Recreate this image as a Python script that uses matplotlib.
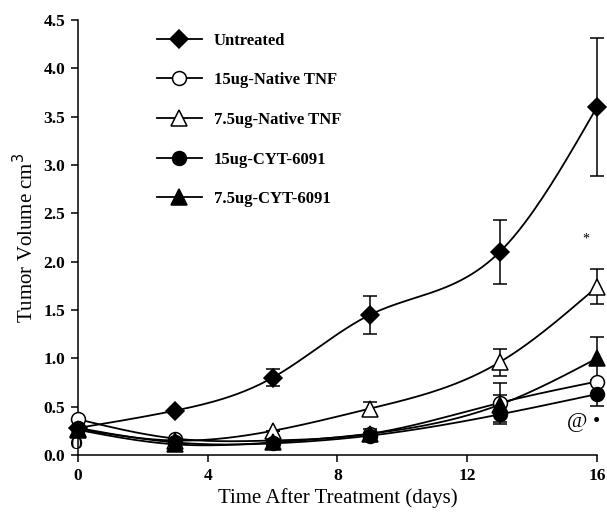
import numpy as np
import matplotlib
matplotlib.use("Agg")
import matplotlib.pyplot as plt

plt.rcParams['font.family'] = ['Liberation Serif', 'DejaVu Serif']

days = [0, 3, 6, 9, 13, 16]
untreated = [0.28, 0.46, 0.80, 1.45, 2.10, 3.60]
untreated_err = [0.0, 0.0, 0.09, 0.20, 0.33, 0.71]
native15 = [0.37, 0.17, 0.15, 0.22, 0.54, 0.76]
native15_err = [0.0, 0.0, 0.0, 0.0, 0.20, 0.0]
native75 = [0.27, 0.15, 0.25, 0.48, 0.96, 1.74]
native75_err = [0.0, 0.0, 0.0, 0.07, 0.14, 0.18]
cyt15 = [0.28, 0.13, 0.12, 0.20, 0.42, 0.63]
cyt15_err = [0.0, 0.0, 0.0, 0.0, 0.10, 0.12]
cyt75 = [0.26, 0.11, 0.13, 0.22, 0.52, 1.00]
cyt75_err = [0.0, 0.0, 0.0, 0.05, 0.10, 0.22]

labels = ["Untreated", "15ug-Native TNF", "7.5ug-Native TNF", "15ug-CYT-6091", "7.5ug-CYT-6091"]
xticks = [0, 4, 8, 12, 16]
yticks = [0.0, 0.5, 1.0, 1.5, 2.0, 2.5, 3.0, 3.5, 4.0, 4.5]


def smooth(x, y, n=200):
    # natural cubic spline through the points (for drawing only)
    x = np.asarray(x, float); y = np.asarray(y, float)
    k = len(x)
    h = np.diff(x)
    A = np.zeros((k, k)); b = np.zeros(k)
    A[0, 0] = 1; A[-1, -1] = 1
    for i in range(1, k - 1):
        A[i, i - 1] = h[i - 1]; A[i, i] = 2 * (h[i - 1] + h[i]); A[i, i + 1] = h[i]
        b[i] = 3 * ((y[i + 1] - y[i]) / h[i] - (y[i] - y[i - 1]) / h[i - 1])
    c = np.linalg.solve(A, b)
    xs = np.linspace(x[0], x[-1], n)
    ys = np.empty_like(xs)
    for j, xv in enumerate(xs):
        i = min(np.searchsorted(x, xv, side='right') - 1, k - 2)
        bi = (y[i + 1] - y[i]) / h[i] - h[i] * (2 * c[i] + c[i + 1]) / 3
        di = (c[i + 1] - c[i]) / (3 * h[i])
        t = xv - x[i]
        ys[j] = y[i] + bi * t + c[i] * t ** 2 + di * t ** 3
    return xs, ys


fig = plt.figure(figsize=(6.07, 5.16), dpi=100)
ax = fig.add_axes([0.1285, 0.1182, 0.855, 0.843])

series = [
    (untreated, untreated_err, 'D', 'black', 9),
    (native15, native15_err, 'o', 'white', 10),
    (native75, native75_err, '^', 'white', 11),
    (cyt15, cyt15_err, 'o', 'black', 10),
    (cyt75, cyt75_err, '^', 'black', 11),
]
handles = []
for (vals, err, m, fc, ms), lab in zip(series, labels):
    xs, ys = smooth(days, vals)
    ax.plot(xs, ys, color='black', lw=1.3, clip_on=False, zorder=2)
    e = np.array(err)
    ax.errorbar(days, vals, yerr=e, fmt='none', ecolor='black', elinewidth=1.1,
                capsize=5, capthick=1.1, clip_on=False, zorder=2)
    ax.plot(days, vals, linestyle='none', marker=m, ms=ms, mfc=fc, mec='black',
            mew=1.1, clip_on=False, zorder=3)
    h, = ax.plot([], [], color='black', lw=1.3, marker=m, ms=ms, mfc=fc, mec='black', mew=1.1)
    handles.append(h)

ax.set_xlim(0, 16)
ax.set_ylim(0, 4.5)
ax.set_xticks(xticks)
ax.set_xticklabels([str(t) for t in xticks], fontweight='bold', fontsize=12.5)
ax.set_yticks(yticks)
ax.set_yticklabels([f"{t:.1f}" for t in yticks], fontweight='bold', fontsize=12.5)
ax.spines['top'].set_visible(False)
ax.spines['right'].set_visible(False)
ax.spines['left'].set_linewidth(1.1)
ax.spines['bottom'].set_linewidth(1.1)
ax.tick_params(direction='out', length=5, width=1.1, pad=4)

ax.set_xlabel("Time After Treatment (days)", fontsize=15, labelpad=3)
ax.set_ylabel("Tumor Volume cm$^3$", fontsize=15, labelpad=4)

leg = ax.legend(handles, labels, loc='upper left', bbox_to_anchor=(0.152, 0.971),
                frameon=False, handlelength=2.7, handletextpad=0.7, labelspacing=1.42,
                borderpad=0, borderaxespad=0,
                prop={'weight': 'bold', 'size': 12, 'family': 'Liberation Serif'})

ax.text(15.65, 2.23, "*", fontsize=10, ha='center', va='center')
ax.text(15.4, 0.34, "@", fontsize=16, ha='center', va='center')
ax.text(16.0, 0.34, "\u2022", fontsize=15, ha='center', va='center')
ax.text(-0.05, 0.12, "o", fontsize=19, ha='center', va='center')

fig.savefig("out.png", dpi=100)
